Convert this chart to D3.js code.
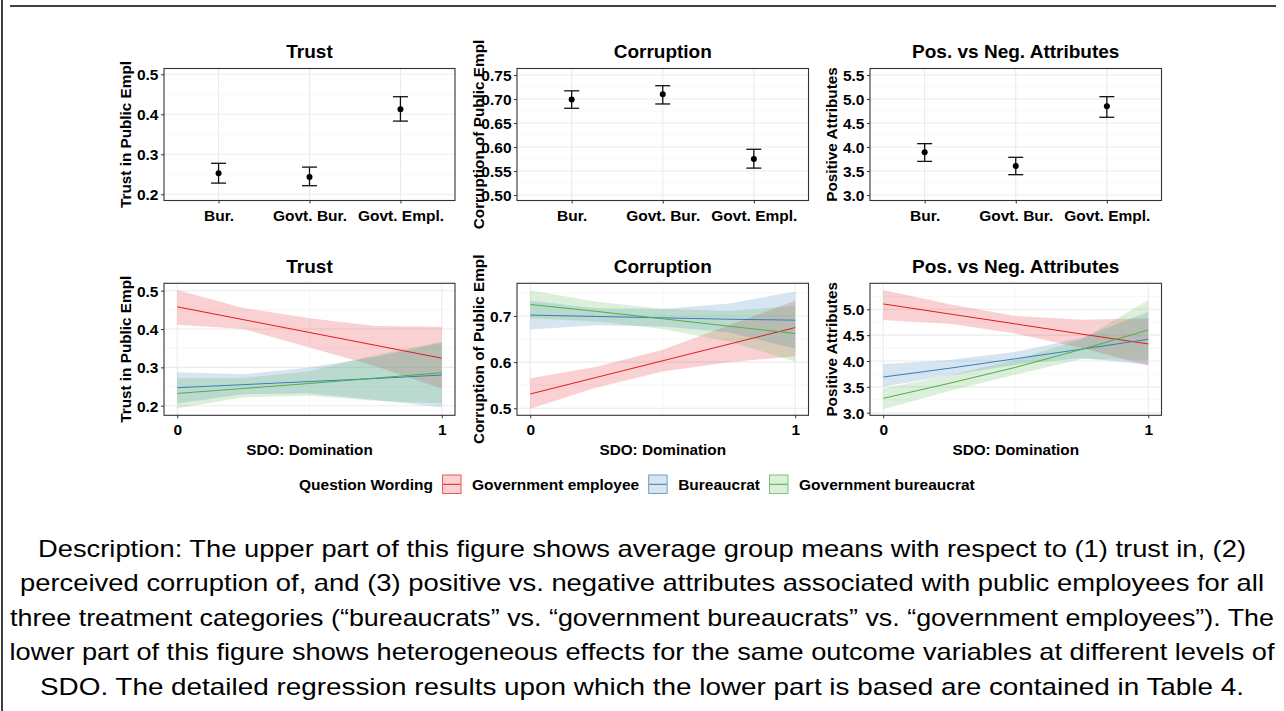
<!DOCTYPE html>
<html><head><meta charset="utf-8">
<script src="https://cdn.jsdelivr.net/npm/d3@7"></script>
<style>
body{margin:0;background:#fff}
svg{display:block}
text{font-family:"Liberation Sans",Arial,Helvetica,sans-serif}
</style>
</head><body>
<svg id="c" width="1284" height="711"></svg>
<script>
// ---------- DATA ----------
const categories = ["Bur.", "Govt. Bur.", "Govt. Empl."];
const trustMean = [0.2525, 0.243, 0.4125];
const trustLo   = [0.228, 0.2215, 0.383];
const trustHi   = [0.2775, 0.268, 0.444];
const corrMean  = [0.699, 0.710, 0.575];
const corrLo    = [0.6806, 0.6896, 0.556];
const corrHi    = [0.717, 0.7277, 0.5952];
const attrMean  = [3.89, 3.604, 4.848];
const attrLo    = [3.70, 3.423, 4.619];
const attrHi    = [4.069, 3.785, 5.048];

const groups = ["Government employee", "Bureaucrat", "Government bureaucrat"];
const groupColors = ["#E41A1C", "#377EB8", "#4DAF4A"];
const sdo = [0, 0.25, 0.5, 0.75, 1];

// Trust (bottom)
const trustGEfit = [0.458, 0.4245, 0.391, 0.3575, 0.324];
const trustGElo  = [0.411, 0.400, 0.352, 0.303, 0.245];
const trustGEhi  = [0.502, 0.455, 0.428, 0.408, 0.406];
const trustBUfit = [0.247, 0.255, 0.263, 0.271, 0.280];
const trustBUlo  = [0.206, 0.230, 0.232, 0.215, 0.196];
const trustBUhi  = [0.287, 0.282, 0.300, 0.328, 0.364];
const trustGBfit = [0.232, 0.245, 0.258, 0.272, 0.286];
const trustGBlo  = [0.193, 0.222, 0.226, 0.213, 0.206];
const trustGBhi  = [0.2715, 0.272, 0.290, 0.332, 0.367];
// Corruption (bottom)
const corrGEfit = [0.531, 0.567, 0.603, 0.639, 0.675];
const corrGElo  = [0.499, 0.545, 0.580, 0.600, 0.613];
const corrGEhi  = [0.565, 0.590, 0.627, 0.680, 0.733];
const corrBUfit = [0.702, 0.699, 0.696, 0.693, 0.691];
const corrBUlo  = [0.671, 0.680, 0.677, 0.665, 0.629];
const corrBUhi  = [0.733, 0.717, 0.715, 0.727, 0.753];
const corrGBfit = [0.725, 0.710, 0.694, 0.678, 0.662];
const corrGBlo  = [0.695, 0.688, 0.672, 0.645, 0.601];
const corrGBhi  = [0.756, 0.731, 0.716, 0.711, 0.722];
// Positive attributes (bottom)
const attrGEfit = [5.104, 4.91, 4.717, 4.52, 4.33];
const attrGElo  = [4.794, 4.72, 4.53, 4.25, 3.91];
const attrGEhi  = [5.375, 5.10, 4.87, 4.80, 4.827];
const attrBUfit = [3.69, 3.86, 4.045, 4.23, 4.42];
const attrBUlo  = [3.50, 3.72, 3.93, 4.06, 3.93];
const attrBUhi  = [3.943, 4.02, 4.18, 4.45, 4.955];
const attrGBfit = [3.278, 3.569, 3.879, 4.227, 4.60];
const attrGBlo  = [3.066, 3.42, 3.74, 4.04, 4.02];
const attrGBhi  = [3.47, 3.72, 4.03, 4.42, 5.18];

const panelTitles = ["Trust", "Corruption", "Pos. vs Neg. Attributes"];
const yTitles = ["Trust in Public Empl", "Corruption of Public Empl", "Positive Attributes"];
const topYTicks = [[0.2,0.3,0.4,0.5],[0.50,0.55,0.60,0.65,0.70,0.75],[3.0,3.5,4.0,4.5,5.0,5.5]];
const topYFmt = [".1f", ".2f", ".1f"];
const botYTicks = [[0.2,0.3,0.4,0.5],[0.5,0.6,0.7],[3.0,3.5,4.0,4.5,5.0]];
const sdoTicks = [0, 1];
const xTitle = "SDO: Domination";
const legendTitle = "Question Wording";
const description = [
  "Description: The upper part of this figure shows average group means with respect to (1) trust in, (2)",
  "perceived corruption of, and (3) positive vs. negative attributes associated with public employees for all",
  "three treatment categories (\u201cbureaucrats\u201d vs. \u201cgovernment bureaucrats\u201d vs. \u201cgovernment employees\u201d). The",
  "lower part of this figure shows heterogeneous effects for the same outcome variables at different levels of",
  "SDO. The detailed regression results upon which the lower part is based are contained in Table 4."
];

// ---------- LAYOUT ----------
const svg = d3.select("#c");
const colL = [164, 517, 870], colR = [455, 808.5, 1161.5];
const topRow = [68.5, 200.5], botRow = [283.3, 415.3];
const topYDomain = [[0.1845, 0.5145],[0.4885, 0.7635],[2.885, 5.635]];
const botYDomain = [[0.175, 0.5193],[0.4848, 0.7709],[2.95, 5.503]];
const FT = 19, FA = 15.3, FK = 15.5;

svg.append("line").attr("x1",2).attr("x2",2).attr("y1",0).attr("y2",711).attr("stroke","#000").attr("stroke-width",1.5);
svg.append("line").attr("x1",10).attr("x2",1276).attr("y1",6).attr("y2",6).attr("stroke","#000").attr("stroke-width",1.5);

function minorOf(ticks, dom){
  const step = ticks[1]-ticks[0];
  const out = [];
  for (let i=-1;i<ticks.length;i++){
    const v = ticks[0] + step*(i+0.5);
    if (v>dom[0] && v<dom[1]) out.push(v);
  }
  return out;
}

function frame(i, row, yDom, yTicks, fmt){
  const g = svg.append("g");
  const y = d3.scaleLinear().domain(yDom).range([row[1], row[0]]);
  g.append("rect").attr("x",colL[i]).attr("y",row[0]).attr("width",colR[i]-colL[i]).attr("height",row[1]-row[0]).attr("fill","#fff");
  g.selectAll(".ymin").data(minorOf(yTicks,yDom)).join("line")
    .attr("x1",colL[i]).attr("x2",colR[i]).attr("y1",d=>y(d)).attr("y2",d=>y(d))
    .attr("stroke","#F2F2F2").attr("stroke-width",0.6);
  g.selectAll(".ymaj").data(yTicks).join("line")
    .attr("x1",colL[i]).attr("x2",colR[i]).attr("y1",d=>y(d)).attr("y2",d=>y(d))
    .attr("stroke","#EBEBEB").attr("stroke-width",1.1);
  const ax = g.append("g").attr("transform",`translate(${colL[i]},0)`)
    .call(d3.axisLeft(y).tickValues(yTicks).tickSize(3).tickPadding(2.5).tickFormat(d3.format(fmt)));
  ax.select(".domain").remove();
  ax.selectAll(".tick line").attr("stroke","#333");
  ax.selectAll("text").attr("dy","0.36em").attr("font-size",FK).attr("font-weight","bold").attr("fill","#000")
    .attr("font-family","Liberation Sans, Arial, sans-serif");
  svg.append("text").attr("x",(colL[i]+colR[i])/2).attr("y",row[0]-10.8)
    .attr("text-anchor","middle").attr("font-size",FT).attr("font-weight","bold").text(panelTitles[i]);
  svg.append("text").attr("transform",`translate(${colL[i]-33.5},${(row[0]+row[1])/2}) rotate(-90)`)
    .attr("text-anchor","middle").attr("font-size",FA).attr("font-weight","bold").text(yTitles[i]);
  return {g,y};
}
function border(i,row){
  svg.append("rect").attr("x",colL[i]).attr("y",row[0]).attr("width",colR[i]-colL[i]).attr("height",row[1]-row[0])
    .attr("fill","none").attr("stroke","#333").attr("stroke-width",1.1);
}

// ---------- TOP ROW ----------
const topMeans = [trustMean, corrMean, attrMean];
const topLo = [trustLo, corrLo, attrLo];
const topHi = [trustHi, corrHi, attrHi];
for (let i=0;i<3;i++){
  const {g,y} = frame(i, topRow, topYDomain[i], topYTicks[i], topYFmt[i]);
  const x = d3.scalePoint().domain(categories).range([colL[i], colR[i]]).padding(0.6);
  g.selectAll(".xg").data(categories).join("line")
    .attr("x1",d=>x(d)).attr("x2",d=>x(d)).attr("y1",topRow[0]).attr("y2",topRow[1])
    .attr("stroke","#EBEBEB").attr("stroke-width",1.1);
  const ax = g.append("g").attr("transform",`translate(0,${topRow[1]})`)
    .call(d3.axisBottom(x).tickSize(3));
  ax.select(".domain").remove();
  ax.selectAll(".tick line").attr("stroke","#333");
  ax.selectAll("text").attr("dy",null).attr("y",20).attr("font-size",FK).attr("font-weight","bold").attr("fill","#000")
    .attr("font-family","Liberation Sans, Arial, sans-serif");
  const data = categories.map((c,k)=>({c, m:topMeans[i][k], lo:topLo[i][k], hi:topHi[i][k]}));
  const eb = g.append("g").attr("stroke","#111").attr("stroke-width",1.3);
  eb.selectAll(".v").data(data).join("line").attr("x1",d=>x(d.c)).attr("x2",d=>x(d.c)).attr("y1",d=>y(d.lo)).attr("y2",d=>y(d.hi));
  eb.selectAll(".t").data(data).join("line").attr("x1",d=>x(d.c)-7.5).attr("x2",d=>x(d.c)+7.5).attr("y1",d=>y(d.hi)).attr("y2",d=>y(d.hi));
  eb.selectAll(".b").data(data).join("line").attr("x1",d=>x(d.c)-7.5).attr("x2",d=>x(d.c)+7.5).attr("y1",d=>y(d.lo)).attr("y2",d=>y(d.lo));
  g.selectAll(".pt").data(data).join("circle").attr("cx",d=>x(d.c)).attr("cy",d=>y(d.m)).attr("r",3).attr("fill","#000");
  border(i, topRow);
}

// ---------- BOTTOM ROW ----------
const botSeries = [
  [[trustGEfit,trustGElo,trustGEhi],[trustBUfit,trustBUlo,trustBUhi],[trustGBfit,trustGBlo,trustGBhi]],
  [[corrGEfit,corrGElo,corrGEhi],[corrBUfit,corrBUlo,corrBUhi],[corrGBfit,corrGBlo,corrGBhi]],
  [[attrGEfit,attrGElo,attrGEhi],[attrBUfit,attrBUlo,attrBUhi],[attrGBfit,attrGBlo,attrGBhi]]
];
for (let i=0;i<3;i++){
  const {g,y} = frame(i, botRow, botYDomain[i], botYTicks[i], ".1f");
  const x = d3.scaleLinear().domain([-0.05,1.05]).range([colL[i], colR[i]]);
  g.append("line").attr("x1",x(0.5)).attr("x2",x(0.5)).attr("y1",botRow[0]).attr("y2",botRow[1])
    .attr("stroke","#F2F2F2").attr("stroke-width",0.6);
  g.selectAll(".xg").data(sdoTicks).join("line")
    .attr("x1",d=>x(d)).attr("x2",d=>x(d)).attr("y1",botRow[0]).attr("y2",botRow[1])
    .attr("stroke","#EBEBEB").attr("stroke-width",1.1);
  const ax = g.append("g").attr("transform",`translate(0,${botRow[1]})`)
    .call(d3.axisBottom(x).tickValues(sdoTicks).tickSize(3).tickFormat(d3.format("d")));
  ax.select(".domain").remove();
  ax.selectAll(".tick line").attr("stroke","#333");
  ax.selectAll("text").attr("dy",null).attr("y",20).attr("font-size",FK).attr("font-weight","bold").attr("fill","#000")
    .attr("font-family","Liberation Sans, Arial, sans-serif");
  svg.append("text").attr("x",(colL[i]+colR[i])/2).attr("y",botRow[1]+40)
    .attr("text-anchor","middle").attr("font-size",FA).attr("font-weight","bold").text(xTitle);
  const area = d3.area().x((d,k)=>x(sdo[k])).y0(d=>y(d[0])).y1(d=>y(d[1]));
  const line = d3.line().x((d,k)=>x(sdo[k])).y(d=>y(d));
  botSeries[i].forEach((s,gi)=>{
    g.append("path").datum(sdo.map((v,k)=>[s[1][k], s[2][k]])).attr("d",area)
      .attr("fill",groupColors[gi]).attr("fill-opacity",0.2);
  });
  botSeries[i].forEach((s,gi)=>{
    g.append("path").datum(s[0]).attr("d",line).attr("fill","none")
      .attr("stroke",groupColors[gi]).attr("stroke-width",1);
  });
  border(i, botRow);
}

// ---------- LEGEND ----------
const lg = svg.append("g");
let lx = 299; const ly = 489.5;
const lt = lg.append("text").attr("x",lx).attr("y",ly).attr("font-size",FK).attr("font-weight","bold").text(legendTitle);
lx += lt.node().getComputedTextLength() + 9;
groups.forEach((name,gi)=>{
  lg.append("rect").attr("x",lx+0.5).attr("y",475).attr("width",18.5).attr("height",18.5)
    .attr("fill",groupColors[gi]).attr("fill-opacity",0.2).attr("stroke",groupColors[gi]).attr("stroke-opacity",0.7).attr("stroke-width",1);
  lg.append("line").attr("x1",lx+1).attr("x2",lx+18.5).attr("y1",484.3).attr("y2",484.3)
    .attr("stroke",groupColors[gi]).attr("stroke-width",1);
  lx += 30;
  const t = lg.append("text").attr("x",lx).attr("y",ly).attr("font-size",FK).attr("font-weight","bold").text(name);
  lx += t.node().getComputedTextLength() + 9;
});

// ---------- DESCRIPTION ----------
const targets = [1208, 1244, 1264, 1265, 1204];
const dg = svg.append("g");
description.forEach((s,k)=>{
  dg.append("text").attr("x",642).attr("y",556.5+k*34.5)
    .attr("text-anchor","middle").attr("font-size",23.6).attr("fill","#000")
    .attr("textLength",targets[k]).attr("lengthAdjust","spacingAndGlyphs").text(s);
});
</script>
</body></html>
